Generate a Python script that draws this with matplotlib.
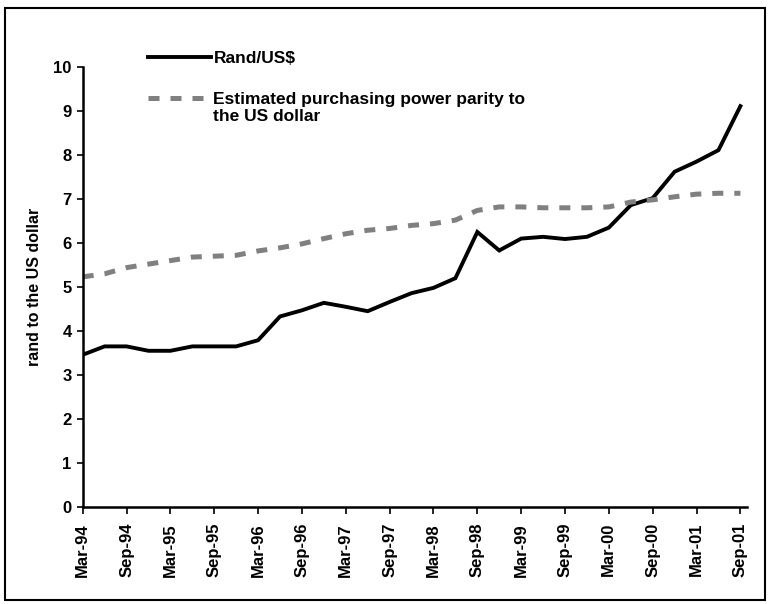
import matplotlib
matplotlib.use("Agg")
import matplotlib.pyplot as plt
from matplotlib.patches import Rectangle

plt.rcParams['font.family'] = ['Liberation Sans', 'DejaVu Sans']
plt.rcParams['font.weight'] = 'bold'

# quarterly data, Mar-94 .. Sep-01
quarters = []
for yr in range(94, 102):
    for m in ['Mar', 'Jun', 'Sep', 'Dec']:
        quarters.append('%s-%02d' % (m, yr % 100))
quarters = quarters[:31]

rand_usd = [3.46, 3.65, 3.65, 3.55, 3.55, 3.65, 3.65, 3.65, 3.79, 4.33,
            4.47, 4.64, 4.55, 4.45, 4.66, 4.86, 4.98, 5.20, 6.25, 5.83,
            6.10, 6.14, 6.09, 6.14, 6.35, 6.86, 7.02, 7.62, 7.85, 8.11, 9.11]
ppp = [5.23, 5.30, 5.44, 5.52, 5.60, 5.68, 5.70, 5.72, 5.82, 5.89,
       5.98, 6.10, 6.21, 6.29, 6.33, 6.40, 6.44, 6.52, 6.74, 6.82,
       6.82, 6.80, 6.80, 6.80, 6.82, 6.93, 6.98, 7.05, 7.11, 7.13, 7.13]

x = list(range(len(quarters)))

fig = plt.figure(figsize=(7.7, 6.04), dpi=100)
ax = fig.add_axes([0.1074, 0.1606, 0.8627, 0.7285])

ax.plot(x, rand_usd, color='black', lw=2.8, label='Rand/US$',
        solid_joinstyle='miter')
ax.plot(x, ppp, color='#808080', lw=3.6, dashes=(2.2, 2.2),
        label='Estimated purchasing power parity to\nthe US dollar')

ax.set_xlim(0, 30.3)
ax.set_ylim(0, 10)
ax.set_yticks(range(0, 11))
ax.set_xticks(x[::2])
ax.set_xticklabels(quarters[::2], rotation=90, fontsize=12, fontweight='bold')
ax.tick_params(axis='y', labelsize=12, length=4, width=1.2, pad=4)
ax.tick_params(axis='x', length=5, width=1.2, pad=6.5)
for s in ['top', 'right']:
    ax.spines[s].set_visible(False)
for s in ['left', 'bottom']:
    ax.spines[s].set_linewidth(1.8)
ax.set_ylabel('rand to the US dollar', fontsize=11.5, fontweight='bold', labelpad=8)

leg = ax.legend(loc='upper left', bbox_to_anchor=(148 / 770, 1 - 51 / 604),
                bbox_transform=fig.transFigure, frameon=False, fontsize=12.5,
                handlelength=3.6, handletextpad=0.17, labelspacing=1.5,
                borderaxespad=0, borderpad=0)
# line up the legend handles with the first line of each label
for col in leg._legend_handle_box.get_children():
    for row in col.get_children():
        row.align = 'top'

fig.patches.append(Rectangle((5 / 770, 4 / 604), 760 / 770, 592 / 604,
                             transform=fig.transFigure, fill=False,
                             edgecolor='black', lw=1.5))

fig.savefig('out.png', dpi=100)
